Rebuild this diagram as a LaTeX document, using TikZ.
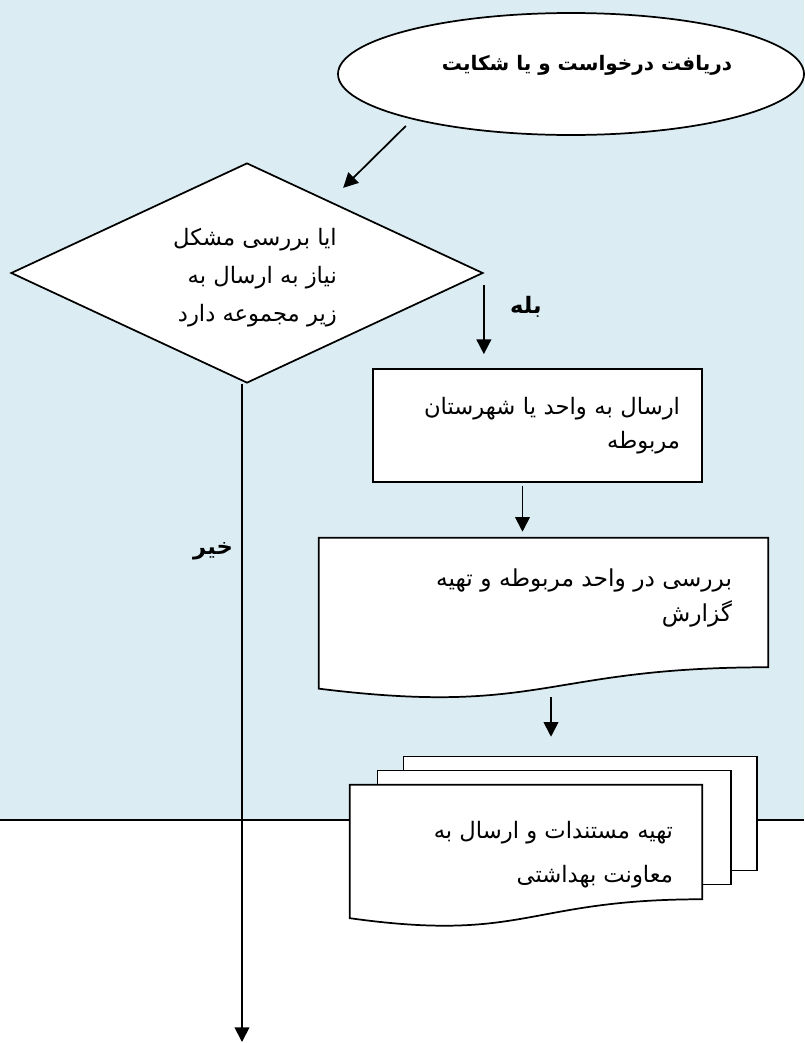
\documentclass[tikz,border=0pt]{standalone}
\usepackage{fontspec}
\newfontfamily\arabicfont[Script=Arabic]{DejaVu Sans}
\usetikzlibrary{positioning,calc,arrows.meta,shapes.geometric}
\TeXXeTstate=1
\definecolor{skyback}{RGB}{219,237,243}
% one right-to-left line
\newcommand{\fa}[1]{\beginR #1\endR}
% document outline hanging below a node that covers its straight part
\newcommand{\docpath}[1]{(#1.north west) -- (#1.north east) -- (#1.south east)
  .. controls (#1.south) and ($(#1.north)!1.38!(#1.south)$) .. ($(#1.north west)!1.165!(#1.south west)$) -- cycle}

\begin{document}
\begin{tikzpicture}[x=0.75pt, y=-0.75pt,
    font=\arabicfont\fontsize{17}{19}\selectfont,
    outline/.style={draw, line width=1.3pt, fill=white},
    startnode/.style={outline, ellipse, minimum width=349.5pt, minimum height=91.5pt, inner sep=0pt},
    decision/.style={outline, diamond, minimum width=354pt, minimum height=165pt, inner sep=0pt},
    procbox/.style={outline, rectangle, text width=213.75pt, inner xsep=16.5pt, inner ysep=0pt,
                    minimum height=84.75pt, align=right},
    docnode/.style={rectangle, inner sep=0pt},
    pagebox/.style={outline, rectangle, inner sep=0pt, minimum width=265pt, minimum height=85.5pt},
    doctext/.style={align=right, inner sep=0pt, anchor=east},
    answer/.style={font=\arabicfont\bfseries\fontsize{17}{19}\selectfont},
    arr/.style={-{Triangle[length=11pt, width=11pt]}, line width=1.3pt},
  ]
  \useasboundingbox (0,0) rectangle (804,1043);
  % light blue band with its lower edge
  \fill[skyback] (0,0) rectangle (804,820);
  \draw[line width=1.3pt] (0,820) -- (804,820);

  % start and decision
  \node[startnode] (request) at (571,74) {};
  \node[font=\arabicfont\bfseries\fontsize{15}{17}\selectfont] (requesttxt) at (587,65)
    {\fa{دریافت درخواست و یا شکایت}};
  \node[decision] (ask) at (247,273) {};
  \node[align=right, font=\arabicfont\fontsize{17}{28.5}\selectfont] (asktxt)
    at ($(ask)+(8,5)$) {\fa{ایا بررسی مشکل}\\\fa{نیاز به ارسال به}\\\fa{زیر مجموعه دارد}};

  % yes branch
  \node[procbox, font=\arabicfont\fontsize{17}{25.5}\selectfont] (send) at (537.5,425.5)
    {\fa{ارسال به واحد یا شهرستان}\\\fa{مربوطه}};

  \node[docnode, minimum width=336.75pt, minimum height=96.75pt] (review) at (543.5,602.5) {};
  \draw[outline] \docpath{review};
  \node[doctext, font=\arabicfont\fontsize{17.5}{26.25}\selectfont] (reviewtxt)
    at ($(review.east)+(-36,-5)$) {\fa{بررسی در واحد مربوطه و تهیه}\\\fa{گزارش}};

  % stacked documents
  \node[docnode, minimum width=264pt, minimum height=85.5pt] (docs) at (526,842) {};
  \node[pagebox, anchor=north west] (page3) at ($(docs.north west)+(53,-29)$) {};
  \node[pagebox, anchor=north west] (page2) at ($(docs.north west)+(27,-15)$) {};
  \draw[outline] \docpath{docs};
  \node[doctext, font=\arabicfont\fontsize{17}{33}\selectfont] (docstxt)
    at ($(docs.east)+(-29,13)$) {\fa{تهیه مستندات و ارسال به}\\\fa{معاونت بهداشتی}};

  % connectors
  \draw[arr, shorten <=7pt, shorten >=14pt] (request.196) -- (ask.41);
  \draw[arr, shorten <=9pt, shorten >=10.5pt] (ask.east) -- (ask.east |- send.north)
    node[answer, pos=0.355, xshift=31.5pt] (yes) {\fa{بله}};
  \coordinate (s3) at ($(send.south)+(-15,0)$);
  \draw[arr, shorten <=2pt, shorten >=4.5pt] (s3) -- (s3 |- review.north);
  \coordinate (s4) at ($(review.south)+(7.5,0)$);
  \draw[arr, shorten <=22.5pt, shorten >=14.25pt] (s4) -- (s4 |- page3.north);
  \coordinate (noend) at (242,1042);
  \draw[arr] (ask.south -| noend) -- (noend)
    node[answer, pos=0.255, xshift=-21.75pt] (no) {\fa{خیر}};
\end{tikzpicture}
\end{document}
